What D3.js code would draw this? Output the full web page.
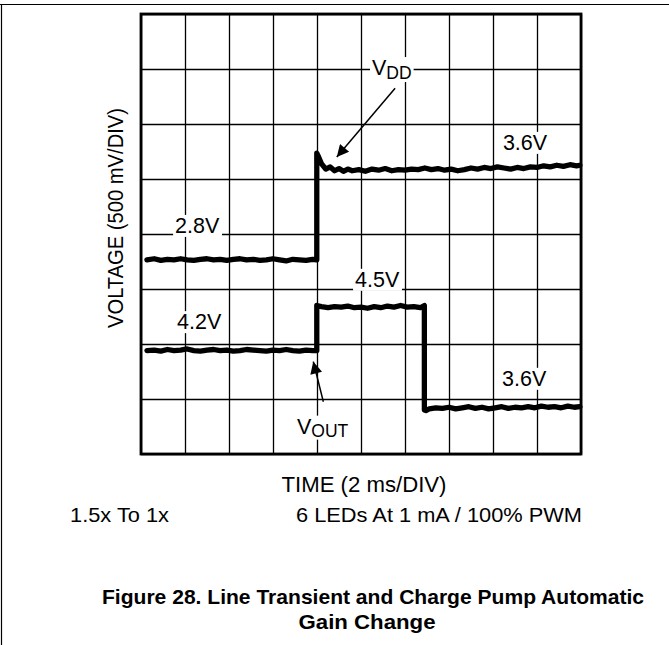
<!DOCTYPE html>
<html>
<head>
<meta charset="utf-8">
<script src="https://cdn.jsdelivr.net/npm/d3@7"></script>
<style>
  html, body { margin: 0; padding: 0; background: #fff; }
  svg { display: block; }
  text { font-family: "Liberation Sans", Arial, Helvetica, sans-serif; fill: #000; }
</style>
</head>
<body>
<svg id="chart" width="669" height="645"></svg>
<script>
// ---------- DATA ----------
// time axis: 2 ms per division, 10 divisions
const timeTicks = [0, 2, 4, 6, 8, 10, 12, 14, 16, 18, 20];      // ms
// vertical axis: 500 mV per division, 8 divisions (screen divisions from bottom)
const divTicks = [0, 1, 2, 3, 4, 5, 6, 7, 8];

// VDD trace (screen divisions) : 2.8 V -> 3.6 V
const vddTime = [0.27, 0.6, 0.9, 1.2, 1.5, 1.8, 2.1, 2.4, 2.7, 3.0, 3.3, 3.6, 3.9, 4.2, 4.5, 4.8, 5.1, 5.4, 5.7, 6.0, 6.3, 6.6, 6.9, 7.2, 7.5, 7.8, 7.99,
  7.99, 8.05, 8.2, 8.4, 8.6, 8.8, 9.0, 9.2, 9.4, 9.6, 9.9, 10.2, 10.5, 10.8, 11.1, 11.4, 11.7, 12.0, 12.3, 12.6, 12.9, 13.2, 13.5, 13.8, 14.1, 14.4, 14.7,
  15.0, 15.3, 15.6, 15.9, 16.2, 16.5, 16.8, 17.1, 17.4, 17.7, 18.0, 18.3, 18.6, 18.9, 19.2, 19.5, 19.8, 19.95];
const vddDiv = [3.53, 3.55, 3.52, 3.54, 3.53, 3.55, 3.53, 3.52, 3.54, 3.55, 3.53, 3.54, 3.52, 3.54, 3.55, 3.53, 3.54, 3.52, 3.53, 3.55, 3.53, 3.51, 3.54, 3.53, 3.52, 3.54, 3.53,
  5.47, 5.42, 5.28, 5.18, 5.22, 5.15, 5.19, 5.14, 5.18, 5.15, 5.17, 5.14, 5.18, 5.16, 5.19, 5.15, 5.17, 5.16, 5.18, 5.17, 5.20, 5.17, 5.19, 5.16, 5.18, 5.15, 5.17,
  5.20, 5.18, 5.21, 5.19, 5.22, 5.20, 5.18, 5.21, 5.19, 5.22, 5.21, 5.24, 5.22, 5.25, 5.23, 5.26, 5.24, 5.25];

// VOUT trace (screen divisions) : 4.2 V -> 4.5 V -> 3.6 V
const voutTime = [0.27, 0.6, 0.9, 1.2, 1.5, 1.8, 2.1, 2.4, 2.7, 3.0, 3.3, 3.6, 3.9, 4.2, 4.5, 4.8, 5.1, 5.4, 5.7, 6.0, 6.3, 6.6, 6.9, 7.2, 7.5, 7.8, 7.99,
  7.99, 8.2, 8.5, 8.8, 9.1, 9.4, 9.7, 10.0, 10.3, 10.6, 10.9, 11.2, 11.5, 11.8, 12.1, 12.4, 12.7, 12.88,
  12.88, 12.95, 13.1, 13.4, 13.7, 14.0, 14.3, 14.6, 14.9, 15.2, 15.5, 15.8, 16.1, 16.4, 16.7, 17.0, 17.3, 17.6, 17.9, 18.2, 18.5, 18.8, 19.1, 19.4, 19.7, 19.95];
const voutDiv = [1.88, 1.89, 1.87, 1.90, 1.88, 1.89, 1.91, 1.88, 1.87, 1.89, 1.90, 1.88, 1.89, 1.87, 1.88, 1.90, 1.89, 1.88, 1.87, 1.89, 1.88, 1.90, 1.88, 1.87, 1.89, 1.88, 1.88,
  2.70, 2.68, 2.66, 2.68, 2.67, 2.69, 2.66, 2.67, 2.65, 2.68, 2.66, 2.69, 2.67, 2.70, 2.67, 2.68, 2.66, 2.70,
  0.80, 0.79, 0.82, 0.84, 0.83, 0.85, 0.82, 0.84, 0.86, 0.83, 0.85, 0.82, 0.84, 0.86, 0.83, 0.85, 0.84, 0.86, 0.84, 0.87, 0.85, 0.86, 0.84, 0.87, 0.85, 0.86];

// level labels (text, time ms, divisions at baseline)
const levelLabels = ["2.8V", "3.6V", "4.5V", "4.2V", "3.6V"];
const levelLabelTime = [1.55, 16.45, 9.73, 1.64, 16.41];
const levelLabelDiv = [4.02, 5.53, 3.04, 2.27, 1.24];

// trace name labels
const traceNames = ["V", "V"];
const traceSubs = ["DD", "OUT"];
const traceNameTime = [10.5, 7.09];
const traceNameDiv = [6.89, 0.37];

// arrows: start (time, div) -> tip (time, div)
const arrowStartTime = [11.55, 8.29];
const arrowStartDiv = [6.65, 0.95];
const arrowTipTime = [8.9, 7.83];
const arrowTipDiv = [5.40, 1.68];

const yTitle = "VOLTAGE (500 mV/DIV)";
const xTitle = "TIME (2 ms/DIV)";
const noteLeft = "1.5x To 1x";
const noteRight = "6 LEDs At 1 mA / 100% PWM";
const caption = ["Figure 28. Line Transient and Charge Pump Automatic", "Gain Change"];

// ---------- DRAW ----------
const svg = d3.select("#chart");
const W = 669, H = 645;
const pL = 141, pR = 581, pT = 14, pB = 454;

const x = d3.scaleLinear().domain([0, 20]).range([pL, pR]);
const y = d3.scaleLinear().domain([0, 8]).range([pB, pT]);

// page frame
svg.append("line").attr("x1", 0).attr("x2", W).attr("y1", 4.5).attr("y2", 4.5)
  .attr("stroke", "#000").attr("stroke-width", 1.2);
svg.append("line").attr("x1", 1.5).attr("x2", 1.5).attr("y1", 4).attr("y2", H)
  .attr("stroke", "#000").attr("stroke-width", 1.2);

// grid through axes
const gx = svg.append("g").attr("transform", `translate(0,${pB})`)
  .call(d3.axisBottom(x).tickValues(timeTicks).tickSize(-(pB - pT)).tickFormat(""));
const gy = svg.append("g").attr("transform", `translate(${pL},0)`)
  .call(d3.axisLeft(y).tickValues(divTicks).tickSize(-(pR - pL)).tickFormat(""));
[gx, gy].forEach(g => {
  g.select(".domain").remove();
  g.selectAll(".tick line").attr("stroke", "#000").attr("stroke-width", 1.3);
});

// labels layer (white background hides grid)
const labelLayer = svg.append("g");
function withBg(textSel, padX, padY) {
  const bb = textSel.node().getBBox();
  labelLayer.insert("rect", () => textSel.node())
    .attr("x", bb.x - padX).attr("y", bb.y - padY)
    .attr("width", bb.width + 2 * padX).attr("height", bb.height + 2 * padY)
    .attr("fill", "#fff");
}

levelLabels.forEach((s, i) => {
  const t = labelLayer.append("text")
    .attr("x", x(levelLabelTime[i])).attr("y", y(levelLabelDiv[i]))
    .attr("font-size", 21.5).text(s);
  withBg(t, 2, -1);
});

traceNames.forEach((s, i) => {
  const t = labelLayer.append("text")
    .attr("x", x(traceNameTime[i])).attr("y", y(traceNameDiv[i]))
    .attr("font-size", 21.5);
  t.append("tspan").text(s);
  t.append("tspan").attr("font-size", 17.5).attr("dy", i === 0 ? 4 : 3).text(traceSubs[i]);
  withBg(t, 2, -1);
});

// traces
const line = d3.line().x(d => x(d[0])).y(d => y(d[1]));
const traces = [d3.zip(vddTime, vddDiv), d3.zip(voutTime, voutDiv)];
svg.append("g").selectAll("path").data(traces).join("path")
  .attr("d", line)
  .attr("fill", "none").attr("stroke", "#000")
  .attr("stroke-width", 5.3).attr("stroke-linejoin", "round").attr("stroke-linecap", "round");

// arrows
const defs = svg.append("defs");
defs.append("marker").attr("id", "ah").attr("viewBox", "0 0 10 10")
  .attr("refX", 10).attr("refY", 5).attr("markerUnits", "userSpaceOnUse")
  .attr("markerWidth", 19).attr("markerHeight", 12).attr("orient", "auto")
  .append("path").attr("d", "M0,0 L10,5 L0,10 z").attr("fill", "#000");
arrowStartTime.forEach((_, i) => {
  svg.append("line")
    .attr("x1", x(arrowStartTime[i])).attr("y1", y(arrowStartDiv[i]))
    .attr("x2", x(arrowTipTime[i])).attr("y2", y(arrowTipDiv[i]))
    .attr("stroke", "#000").attr("stroke-width", 1.5)
    .attr("marker-end", "url(#ah)");
});

// plot border
svg.append("rect")
  .attr("x", x(0)).attr("y", y(8))
  .attr("width", x(20) - x(0)).attr("height", y(0) - y(8))
  .attr("fill", "none").attr("stroke", "#000").attr("stroke-width", 2.8);

// axis titles
svg.append("text")
  .attr("transform", `translate(123,218) rotate(-90)`)
  .attr("text-anchor", "middle").attr("font-size", 22)
  .attr("textLength", 220).attr("lengthAdjust", "spacingAndGlyphs")
  .text(yTitle);
svg.append("text")
  .attr("x", 364).attr("y", 492).attr("text-anchor", "middle").attr("font-size", 22)
  .attr("textLength", 165).attr("lengthAdjust", "spacingAndGlyphs")
  .text(xTitle);

svg.append("text").attr("x", 70).attr("y", 522).attr("font-size", 21)
  .attr("textLength", 99).attr("lengthAdjust", "spacingAndGlyphs").text(noteLeft);
svg.append("text").attr("x", 296).attr("y", 522).attr("font-size", 21)
  .attr("textLength", 286).attr("lengthAdjust", "spacingAndGlyphs").text(noteRight);

svg.append("text").attr("x", 373).attr("y", 604).attr("text-anchor", "middle")
  .attr("font-size", 20.5).attr("font-weight", "bold")
  .attr("textLength", 542).attr("lengthAdjust", "spacingAndGlyphs").text(caption[0]);
svg.append("text").attr("x", 367).attr("y", 629).attr("text-anchor", "middle")
  .attr("font-size", 20.5).attr("font-weight", "bold")
  .attr("textLength", 137).attr("lengthAdjust", "spacingAndGlyphs").text(caption[1]);
</script>
</body>
</html>
